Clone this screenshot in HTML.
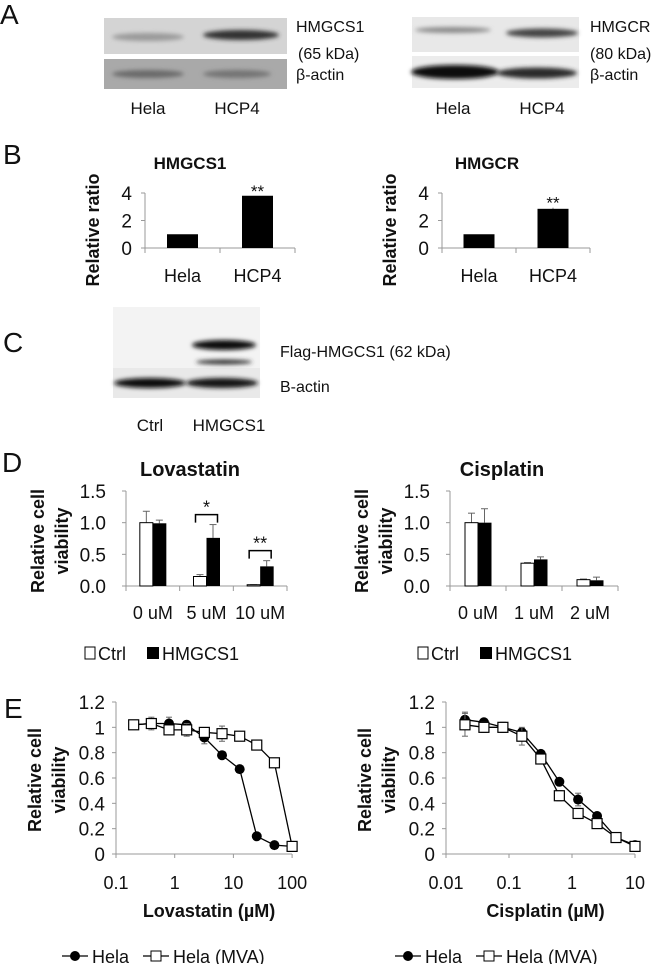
<!DOCTYPE html>
<html><head><meta charset="utf-8"><style>
html,body{margin:0;padding:0;background:#fff}
svg{display:block;font-family:"Liberation Sans",sans-serif}
.t{font-size:16px;fill:#111}
.tk{font-size:17px;fill:#111}
</style></head><body>
<svg id="fig" width="655" height="964" viewBox="0 0 655 964">
<defs>
<filter id="bl" x="-20%" y="-100%" width="140%" height="300%"><feGaussianBlur stdDeviation="2"/></filter>
</defs>
<text x="0" y="24" font-size="28" fill="#111">A</text>
<text x="3" y="164" font-size="28" fill="#111">B</text>
<text x="3" y="352" font-size="28" fill="#111">C</text>
<text x="2" y="472" font-size="28" fill="#111">D</text>
<text x="4" y="718" font-size="28" fill="#111">E</text>

<g>
<rect x="104" y="18" width="183" height="36" fill="#d4d4d4"/>
<ellipse cx="148" cy="37" rx="36" ry="4" fill="#9a9a9a" filter="url(#bl)"/>
<ellipse cx="241" cy="35" rx="38" ry="5" fill="#333" filter="url(#bl)"/>
<rect x="104" y="59" width="183" height="30" fill="#a9a9a9"/>
<ellipse cx="148" cy="74" rx="36" ry="4" fill="#6a6a6a" filter="url(#bl)"/>
<ellipse cx="237" cy="74" rx="34" ry="4" fill="#757575" filter="url(#bl)"/>
</g>
<text class="t" x="296" y="32">HMGCS1</text>
<text class="t" x="298" y="59">(65 kDa)</text>
<text class="t" x="296" y="80">β-actin</text>
<text class="tk" x="148" y="114" text-anchor="middle">Hela</text>
<text class="tk" x="237" y="114" text-anchor="middle">HCP4</text>

<g>
<rect x="412" y="17" width="167" height="35" fill="#e8e8e8"/>
<ellipse cx="453" cy="30" rx="38" ry="3" fill="#8a8a8a" filter="url(#bl)"/>
<ellipse cx="542" cy="33" rx="36" ry="4.5" fill="#444" filter="url(#bl)"/>
<rect x="412" y="56" width="167" height="32" fill="#ececec"/>
<ellipse cx="455" cy="72" rx="44" ry="7" fill="#111" filter="url(#bl)"/>
<ellipse cx="537" cy="73" rx="40" ry="5.5" fill="#2a2a2a" filter="url(#bl)"/>
</g>
<text class="t" x="590" y="32">HMGCR</text>
<text class="t" x="590" y="59">(80 kDa)</text>
<text class="t" x="590" y="80">β-actin</text>
<text class="tk" x="453" y="114" text-anchor="middle">Hela</text>
<text class="tk" x="542" y="114" text-anchor="middle">HCP4</text>

<g>
<rect x="113" y="307" width="147" height="61" fill="#f3f3f3"/>
<rect x="113" y="368" width="147" height="30" fill="#e9e9e9"/>
<ellipse cx="224" cy="345" rx="32" ry="5" fill="#080808" filter="url(#bl)"/>
<ellipse cx="224" cy="362" rx="28" ry="2.5" fill="#333" filter="url(#bl)"/>
<ellipse cx="150" cy="383" rx="36" ry="5" fill="#111" filter="url(#bl)"/>
<ellipse cx="222" cy="383" rx="36" ry="5" fill="#151515" filter="url(#bl)"/>
</g>
<text class="t" x="280" y="357">Flag-HMGCS1 (62 kDa)</text>
<text class="t" x="280" y="392">B-actin</text>
<text class="tk" x="150" y="431" text-anchor="middle">Ctrl</text>
<text class="tk" x="229" y="431" text-anchor="middle">HMGCS1</text>

<g id="charts"></g>
</svg>
<script>
// Panel B data
const bCats = ["Hela", "HCP4"];
const bHmgcs1 = [1.0, 3.8];
const bHmgcr = [1.0, 2.85];
const bHmgcrErr = [0, 0.08];
const bTicks = [0, 2, 4];
// Panel D data
const dLovaCats = ["0 uM", "5 uM", "10 uM"];
const dLovaCtrl = [1.0, 0.15, 0.02];
const dLovaCtrlErr = [0.18, 0.03, 0.0];
const dLovaHm = [0.99, 0.76, 0.31];
const dLovaHmErr = [0.05, 0.21, 0.09];
const dCisCats = ["0 uM", "1 uM", "2 uM"];
const dCisCtrl = [1.0, 0.36, 0.10];
const dCisCtrlErr = [0.15, 0.01, 0.01];
const dCisHm = [1.0, 0.42, 0.09];
const dCisHmErr = [0.22, 0.04, 0.05];
const dTicks = ["0.0", "0.5", "1.0", "1.5"];
// Panel E data
const eLovaX = [0.2, 0.4, 0.8, 1.6, 3.2, 6.4, 12.8, 25, 50, 100];
const eLovaHela = [1.02, 1.03, 1.03, 1.02, 0.92, 0.78, 0.67, 0.14, 0.07, 0.06];
const eLovaHelaErr = [0.01, 0.02, 0.05, 0.03, 0.05, 0.01, 0.02, 0.01, 0.01, 0.01];
const eLovaMva = [1.02, 1.03, 0.98, 0.98, 0.96, 0.95, 0.93, 0.86, 0.72, 0.06];
const eLovaMvaErr = [0.01, 0.05, 0.03, 0.05, 0.03, 0.06, 0.01, 0.01, 0.02, 0.01];
const eLovaTicks = ["0.1", "1", "10", "100"];
const eCisX = [0.02, 0.04, 0.08, 0.16, 0.32, 0.63, 1.25, 2.5, 5, 10];
const eCisHela = [1.06, 1.04, 1.0, 0.96, 0.79, 0.57, 0.43, 0.30, 0.13, 0.07];
const eCisHelaErr = [0.06, 0.02, 0.02, 0.03, 0.01, 0.01, 0.05, 0.01, 0.01, 0.01];
const eCisMva = [1.02, 1.0, 1.0, 0.93, 0.75, 0.46, 0.32, 0.24, 0.13, 0.06];
const eCisMvaErr = [0.09, 0.04, 0.04, 0.07, 0.02, 0.04, 0.04, 0.01, 0.01, 0.01];
const eCisTicks = ["0.01", "0.1", "1", "10"];
const eYTicks = ["0", "0.2", "0.4", "0.6", "0.8", "1", "1.2"];

const NS = "http://www.w3.org/2000/svg";
const root = document.getElementById("charts");
function mk(tag, attrs, parent, txt) {
  const e = document.createElementNS(NS, tag);
  for (const k in attrs) e.setAttribute(k, attrs[k]);
  if (txt !== undefined) e.textContent = txt;
  (parent || root).appendChild(e);
  return e;
}

function barB(x0, x1, y0, y4, vals, errs, title, titleX, yTitleX, nm) {
  const g = mk("g", {});
  
  
  const ys = v => y0 - (y0 - y4) * v / 4;
  const gw = (x1 - x0) / bCats.length;
  const t = mk("text", {x: titleX, y: 169, "text-anchor": "middle", "font-size": 17, "font-weight": "bold", fill: "#111"}, g, title);
  
  
  mk("line", {x1: x0, y1: y4, x2: x0, y2: y0, stroke: "#999"}, g);
  mk("line", {x1: x0, y1: y0, x2: x1, y2: y0, stroke: "#999"}, g);
  bTicks.forEach(v => {
    mk("line", {x1: x0 - 4, y1: ys(v), x2: x0, y2: ys(v), stroke: "#999"}, g);
    const tl = mk("text", {x: x0 - 13, y: ys(v) + 7, "text-anchor": "end", "font-size": 19, fill: "#111"}, g, String(v));
    
    
  });
  for (let i = 0; i <= bCats.length; i++) mk("line", {x1: x0 + gw * i, y1: y0, x2: x0 + gw * i, y2: y0 + 5, stroke: "#999"}, g);
  vals.forEach((v, i) => {
    const c = x0 + gw * (i + 0.5);
    const r = mk("rect", {x: c - 15.5, y: ys(v), width: 31, height: y0 - ys(v), fill: "#000"}, g);
    
    
    if (errs && errs[i]) mk("line", {x1: c, y1: ys(v), x2: c, y2: ys(v + errs[i]), stroke: "#666"}, g);
    const cl = mk("text", {x: c, y: 282, "text-anchor": "middle", "font-size": 18, fill: "#111"}, g, bCats[i]);
    
    
  });
  const st = mk("text", {x: x0 + gw * 1.5, y: ys(vals[1] + (errs ? errs[1] : 0)) + 1, "text-anchor": "middle", "font-size": 17, fill: "#111"}, g, "**");
  
  
  const yt = mk("text", {x: 0, y: 0, transform: `translate(${yTitleX},230) rotate(-90)`, "text-anchor": "middle", "font-size": 18, "font-weight": "bold", fill: "#111"}, g, "Relative ratio");
  
  
}
barB(145, 295, 248, 193, bHmgcs1, null, "HMGCS1", 190, 99, "chart-b-hmgcs1");
barB(442, 590, 248, 193, bHmgcr, bHmgcrErr, "HMGCR", 487, 396, "chart-b-hmgcr");

function barD(x0, x1, cats, ctrl, ce, hm, he, title, titleX, nm, legX, brackets) {
  const g = mk("g", {});
  
  
  const y0 = 586, yTop = 491;
  const ys = v => y0 - (y0 - yTop) * v / 1.5;
  const gw = (x1 - x0) / cats.length;
  const t = mk("text", {x: titleX, y: 476, "text-anchor": "middle", "font-size": 20, "font-weight": "bold", fill: "#111"}, g, title);
  
  
  mk("line", {x1: x0, y1: yTop, x2: x0, y2: y0, stroke: "#999"}, g);
  mk("line", {x1: x0, y1: y0, x2: x1, y2: y0, stroke: "#999"}, g);
  dTicks.forEach(s => {
    const v = parseFloat(s);
    mk("line", {x1: x0 - 4, y1: ys(v), x2: x0, y2: ys(v), stroke: "#999"}, g);
    const tl = mk("text", {x: x0 - 20, y: ys(v) + 7, "text-anchor": "end", "font-size": 19, fill: "#111"}, g, s);
    
    
  });
  for (let i = 0; i <= cats.length; i++) mk("line", {x1: x0 + gw * i, y1: y0, x2: x0 + gw * i, y2: y0 + 5, stroke: "#999"}, g);
  cats.forEach((c, i) => {
    const cx = x0 + gw * (i + 0.5);
    mk("line", {x1: cx - 6.5, y1: ys(ctrl[i]), x2: cx - 6.5, y2: ys(ctrl[i] + ce[i]), stroke: "#666"}, g);
    mk("line", {x1: cx - 10, y1: ys(ctrl[i] + ce[i]), x2: cx - 3, y2: ys(ctrl[i] + ce[i]), stroke: "#666"}, g);
    mk("line", {x1: cx + 6.5, y1: ys(hm[i]), x2: cx + 6.5, y2: ys(hm[i] + he[i]), stroke: "#666"}, g);
    mk("line", {x1: cx + 3, y1: ys(hm[i] + he[i]), x2: cx + 10, y2: ys(hm[i] + he[i]), stroke: "#666"}, g);
    const r1 = mk("rect", {x: cx - 13, y: ys(ctrl[i]), width: 13, height: y0 - ys(ctrl[i]), fill: "#fff", stroke: "#000", "stroke-width": 1}, g);
    
    
    const r2 = mk("rect", {x: cx, y: ys(hm[i]), width: 13.5, height: y0 - ys(hm[i]), fill: "#000"}, g);
    
    
    const cl = mk("text", {x: cx, y: 619, "text-anchor": "middle", "font-size": 18, fill: "#111"}, g, c);
    
    
    if (brackets[i]) {
      const top = ys(Math.max(ctrl[i] + ce[i], hm[i] + he[i])) - 10;
      mk("path", {d: `M${cx - 11} ${top + 8} V${top} H${cx + 11} V${top + 8}`, fill: "none", stroke: "#000", "stroke-width": 1.5}, g);
      const st = mk("text", {x: cx, y: top - 1, "text-anchor": "middle", "font-size": 18, fill: "#111"}, g, brackets[i]);
      
      
    }
  });
  const yt = mk("text", {"text-anchor": "middle", "font-size": 18, "font-weight": "bold", fill: "#111", transform: `translate(${x0 - 82},541) rotate(-90)`}, g);
  mk("tspan", {x: 0, dy: 0}, yt, "Relative cell");
  mk("tspan", {x: 0, dy: 24}, yt, "viability");
  
  
  const lg = mk("g", {}, g);
  
  
  mk("rect", {x: legX, y: 647, width: 10, height: 12, fill: "#fff", stroke: "#000"}, lg);
  mk("text", {x: legX + 13, y: 660, "font-size": 18, fill: "#111"}, lg, "Ctrl");
  mk("rect", {x: legX + 62, y: 647, width: 12, height: 12, fill: "#000"}, lg);
  mk("text", {x: legX + 77, y: 660, "font-size": 18, fill: "#111"}, lg, "HMGCS1");
}
barD(126, 287, dLovaCats, dLovaCtrl, dLovaCtrlErr, dLovaHm, dLovaHmErr, "Lovastatin", 190, "chart-d-lovastatin", 85, [null, "*", "**"]);
barD(450, 618, dCisCats, dCisCtrl, dCisCtrlErr, dCisHm, dCisHmErr, "Cisplatin", 502, "chart-d-cisplatin", 418, [null, null, null]);

function lineE(x0, dec0, pxDec, xTicks, xs, s1, e1, s2, e2, xTitle, nm, xEnd, legX) {
  const g = mk("g", {});
  
  
  const y0 = 854, yTop = 702;
  const ys = v => y0 - (y0 - yTop) * v / 1.2;
  const xsc = v => x0 + (Math.log10(v) - dec0) * pxDec;
  mk("line", {x1: x0, y1: yTop, x2: x0, y2: y0, stroke: "#999"}, g);
  mk("line", {x1: x0, y1: y0, x2: xEnd, y2: y0, stroke: "#999"}, g);
  eYTicks.forEach(s => {
    const v = parseFloat(s);
    mk("line", {x1: x0 - 4, y1: ys(v), x2: x0, y2: ys(v), stroke: "#999"}, g);
    const tl = mk("text", {x: x0 - 11, y: ys(v) + 7, "text-anchor": "end", "font-size": 19, fill: "#111"}, g, s);
    
    
  });
  xTicks.forEach(s => {
    const x = xsc(parseFloat(s));
    mk("line", {x1: x, y1: y0, x2: x, y2: y0 + 4, stroke: "#999"}, g);
    const tl = mk("text", {x: x, y: 889, "text-anchor": "middle", "font-size": 18, fill: "#111"}, g, s);
    
    
  });
  const xt = mk("text", {x: (x0 + xEnd) / 2 + 5, y: 917, "text-anchor": "middle", "font-size": 18, "font-weight": "bold", fill: "#111"}, g, xTitle);
  
  
  const yt = mk("text", {"text-anchor": "middle", "font-size": 18, "font-weight": "bold", fill: "#111", transform: `translate(${x0 - 75},780) rotate(-90)`}, g);
  mk("tspan", {x: 0, dy: 0}, yt, "Relative cell");
  mk("tspan", {x: 0, dy: 24}, yt, "viability");
  
  
  function series(vals, errs, filled, name) {
    const sg = mk("g", {}, g);
    
    
    vals.forEach((v, i) => {
      const x = xsc(xs[i]);
      mk("line", {x1: x, y1: ys(v - errs[i]), x2: x, y2: ys(v + errs[i]), stroke: "#666"}, sg);
      mk("line", {x1: x - 3, y1: ys(v + errs[i]), x2: x + 3, y2: ys(v + errs[i]), stroke: "#666"}, sg);
      mk("line", {x1: x - 3, y1: ys(v - errs[i]), x2: x + 3, y2: ys(v - errs[i]), stroke: "#666"}, sg);
    });
    const pts = vals.map((v, i) => xsc(xs[i]).toFixed(1) + "," + ys(v).toFixed(1)).join(" ");
    mk("polyline", {points: pts, fill: "none", stroke: "#000", "stroke-width": 1.3}, sg);
    vals.forEach((v, i) => {
      const x = xsc(xs[i]), y = ys(v);
      let m;
      if (filled) m = mk("circle", {cx: x, cy: y, r: 5, fill: "#000"}, sg);
      else m = mk("rect", {x: x - 5, y: y - 5, width: 10, height: 10, fill: "#fff", stroke: "#000", "stroke-width": 1.2}, sg);
      
      
    });
  }
  series(s1, e1, true, "series-hela");
  series(s2, e2, false, "series-hela-mva");
  const lg = mk("g", {}, g);
  
  
  mk("line", {x1: legX, y1: 956, x2: legX + 26, y2: 956, stroke: "#000", "stroke-width": 1.3}, lg);
  mk("circle", {cx: legX + 13, cy: 956, r: 5, fill: "#000"}, lg);
  mk("text", {x: legX + 30, y: 963, "font-size": 18, fill: "#111"}, lg, "Hela");
  mk("line", {x1: legX + 81, y1: 956, x2: legX + 107, y2: 956, stroke: "#000", "stroke-width": 1.3}, lg);
  mk("rect", {x: legX + 89, y: 951, width: 10, height: 10, fill: "#fff", stroke: "#000"}, lg);
  mk("text", {x: legX + 111, y: 963, "font-size": 18, fill: "#111"}, lg, "Hela (MVA)");
}
lineE(116, -1, 58.7, eLovaTicks, eLovaX, eLovaHela, eLovaHelaErr, eLovaMva, eLovaMvaErr, "Lovastatin (µM)", "chart-e-lovastatin", 292, 62);
lineE(446, -2, 63, eCisTicks, eCisX, eCisHela, eCisHelaErr, eCisMva, eCisMvaErr, "Cisplatin (µM)", "chart-e-cisplatin", 635, 395);
</script>
</body></html>
